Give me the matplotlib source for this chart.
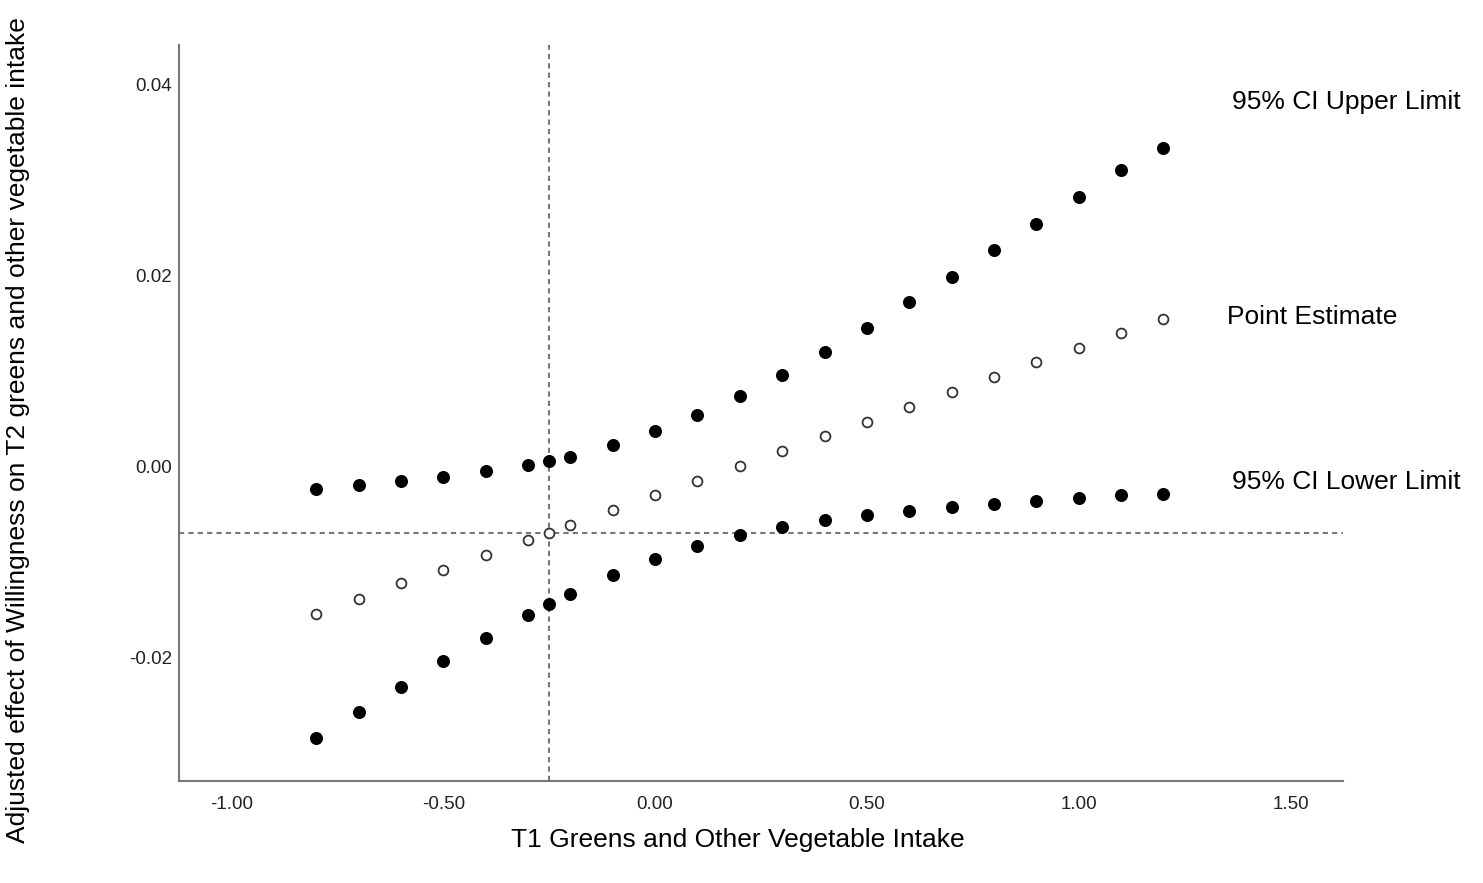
import matplotlib.pyplot as plt
import numpy as np

plt.rcParams['font.family'] = ['Liberation Sans', 'DejaVu Sans']

# T1 intake values (incl. the extra point at the crossing, -0.25)
x_vals = [-0.8, -0.7, -0.6, -0.5, -0.4, -0.3, -0.25, -0.2, -0.1, 0.0, 0.1,
          0.2, 0.3, 0.4, 0.5, 0.6, 0.7, 0.8, 0.9, 1.0, 1.1, 1.2]

upper = [-0.00241, -0.00199, -0.00157, -0.00115, -0.00052, 0.00010, 0.00052,
         0.00094, 0.00220, 0.00366, 0.00534, 0.00733, 0.00953, 0.01194,
         0.01445, 0.01717, 0.01979, 0.02262, 0.02534, 0.02817, 0.03099, 0.03330]

estimate = [-0.01550, -0.01393, -0.01225, -0.01089, -0.00932, -0.00775, -0.00702,
            -0.00618, -0.00461, -0.00304, -0.00157, 0.00000, 0.00157, 0.00314,
            0.00461, 0.00618, 0.00775, 0.00932, 0.01089, 0.01236, 0.01393, 0.01539]

lower = [-0.02848, -0.02576, -0.02314, -0.02042, -0.01801, -0.01560, -0.01445,
         -0.01340, -0.01141, -0.00974, -0.00838, -0.00723, -0.00639, -0.00565,
         -0.00513, -0.00471, -0.00429, -0.00398, -0.00366, -0.00335, -0.00304, -0.00293]

# reference lines
x_ref = -0.25
y_ref = -0.00702

x_ticks = [-1.0, -0.5, 0.0, 0.5, 1.0, 1.5]
y_ticks = [-0.02, 0.0, 0.02, 0.04]

fig = plt.figure(figsize=(14.83, 8.83), dpi=100)
ax = fig.add_axes([0.1207, 0.1155, 0.7849, 0.8335])

ax.axvline(x_ref, color='#777777', linestyle=(0, (2.5, 2)), linewidth=1.5, zorder=1)
ax.axhline(y_ref, color='#777777', linestyle=(0, (2.5, 2)), linewidth=1.5, zorder=1)

ax.scatter(x_vals, upper, s=70, color='black', zorder=3)
ax.scatter(x_vals, lower, s=70, color='black', zorder=3)
ax.scatter(x_vals, estimate, s=50, facecolor='white', edgecolor='#333333',
           linewidth=1.3, zorder=3)

lab_size = 19
ax.text(1.362, 0.03812, '95% CI Upper Limit', fontsize=lab_size, va='center', ha='left', clip_on=False)
ax.text(1.350, 0.0156, 'Point Estimate', fontsize=lab_size, va='center', ha='left', clip_on=False)
ax.text(1.362, -0.00168, '95% CI Lower Limit', fontsize=lab_size, va='center', ha='left', clip_on=False)

ax.set_xlim(-1.124, 1.624)
ax.set_ylim(-0.03298, 0.04408)
ax.set_xticks(x_ticks)
ax.set_xticklabels(['%.2f' % v for v in x_ticks])
ax.set_yticks(y_ticks)
ax.set_yticklabels(['%.2f' % v for v in y_ticks])
ax.tick_params(length=0, labelsize=13.5, colors='#222222')
ax.tick_params(axis='x', pad=11)
ax.tick_params(axis='y', pad=5)

for s in ['top', 'right']:
    ax.spines[s].set_visible(False)
for s in ['left', 'bottom']:
    ax.spines[s].set_color('#777777')
    ax.spines[s].set_linewidth(1.5)

fig.text(0.4977, 0.0487, 'T1 Greens and Other Vegetable Intake', fontsize=lab_size,
         va='center', ha='center')
fig.text(0.012, 0.513, 'Adjusted effect of Willingness on T2 greens and other vegetable intake',
         rotation=90, fontsize=lab_size, va='center', ha='center')

fig.savefig('out.png', dpi=100)
